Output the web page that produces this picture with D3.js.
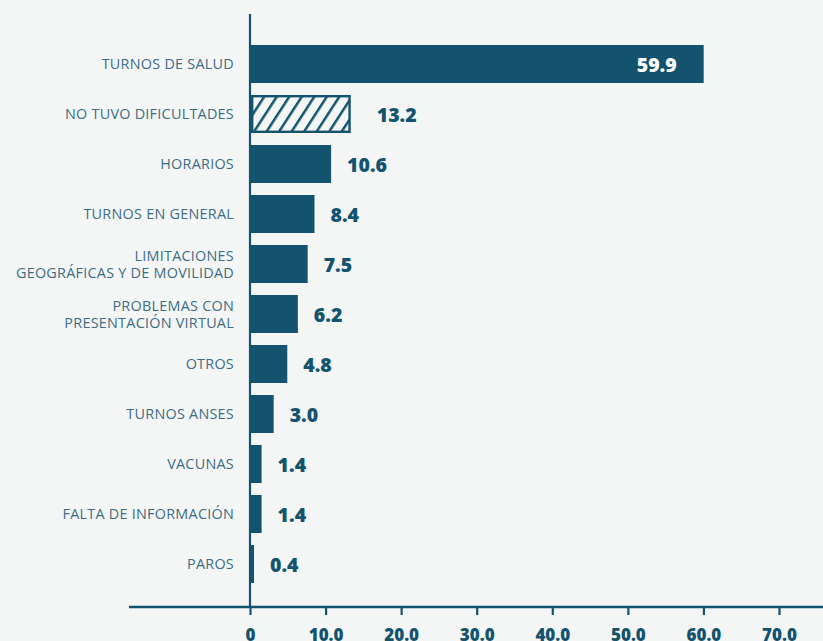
<!DOCTYPE html>
<html>
<head>
<meta charset="utf-8">
<script src="https://cdn.jsdelivr.net/npm/d3@7"></script>
<style>
  html, body { margin: 0; padding: 0; background: #f4f6f6; }
  svg { display: block; }
  .cat { font-family: "Open Sans", sans-serif; font-size: 14.4px; fill: #3d6c83; letter-spacing: 0.25px; }
  .val { font-family: "Open Sans", sans-serif; font-weight: 800; font-size: 19.5px; fill: #13536d; }
  .tick-label { font-family: "Open Sans", sans-serif; font-weight: 800; font-size: 17px; fill: #13536d; }
</style>
</head>
<body>
<svg id="chart" width="823" height="641"></svg>
<script>
// Categories (top to bottom) and their percentages
const categories = [
  ["TURNOS DE SALUD"],
  ["NO TUVO DIFICULTADES"],
  ["HORARIOS"],
  ["TURNOS EN GENERAL"],
  ["LIMITACIONES", "GEOGRÁFICAS Y DE MOVILIDAD"],
  ["PROBLEMAS CON", "PRESENTACIÓN VIRTUAL"],
  ["OTROS"],
  ["TURNOS ANSES"],
  ["VACUNAS"],
  ["FALTA DE INFORMACIÓN"],
  ["PAROS"]
];
const values = [59.9, 13.2, 10.6, 8.4, 7.5, 6.2, 4.8, 3.0, 1.4, 1.4, 0.4];
const hatched = [false, true, false, false, false, false, false, false, false, false, false];
const tickValues = [0, 10, 20, 30, 40, 50, 60, 70];

const color = "#13536d";
const svg = d3.select("#chart");

const x = d3.scaleLinear().domain([0, 70]).range([250, 779]);
const y = d3.scaleBand()
  .domain(d3.range(values.length))
  .range([45, 583])
  .paddingInner(0.24)
  .paddingOuter(0);

// Diagonal hatch for the "no difficulties" bar
const defs = svg.append("defs");
const pat = defs.append("pattern")
  .attr("id", "hatch")
  .attr("patternUnits", "userSpaceOnUse")
  .attr("width", 10.5)
  .attr("height", 10.5)
  .attr("patternTransform", "rotate(33)");
pat.append("rect").attr("width", 10.5).attr("height", 10.5).attr("fill", "#f4f6f6");
pat.append("line")
  .attr("x1", 0).attr("y1", 0).attr("x2", 0).attr("y2", 10.5)
  .attr("stroke", color).attr("stroke-width", 5);

// Bars
const rows = svg.append("g").selectAll("g.row")
  .data(values.map((v, i) => ({ v, i, label: categories[i], hatch: hatched[i] })))
  .join("g").attr("class", "row");

rows.append("rect")
  .attr("x", d => x(0) + (d.hatch ? 2.2 : 1))
  .attr("y", d => y(d.i) + (d.hatch ? 1.2 : 0))
  .attr("width", d => x(d.v) - x(0) - (d.hatch ? 2.4 : 0))
  .attr("height", d => y.bandwidth() - (d.hatch ? 2.4 : 0))
  .attr("fill", d => d.hatch ? "url(#hatch)" : color)
  .attr("stroke", d => d.hatch ? color : "none")
  .attr("stroke-width", 2.4);

// Category labels, right-aligned against the axis; one text per line
const lineGap = 17;
rows.each(function (d) {
  const g = d3.select(this);
  const n = d.label.length;
  const cy = y(d.i) + y.bandwidth() / 2;
  d.label.forEach((line, k) => {
    g.append("text")
      .attr("class", "cat")
      .attr("text-anchor", "end")
      .attr("x", 234)
      .attr("y", cy + (k - (n - 1) / 2) * lineGap + 5)
      .text(line);
  });
});

// Value labels: inside the long bar, to the right for the others
rows.append("text")
  .attr("class", "val")
  .attr("x", d => d.v > 30 ? x(d.v) - 26 : x(d.v) + (d.hatch ? 27 : 17))
  .attr("y", d => y(d.i) + y.bandwidth() / 2 + 7.5)
  .attr("text-anchor", d => d.v > 30 ? "end" : "start")
  .style("fill", d => d.v > 30 ? "#ffffff" : null)
  .text(d => d.v.toFixed(1));

// Vertical axis line
svg.append("line")
  .attr("x1", 250).attr("x2", 250)
  .attr("y1", 14).attr("y2", 607)
  .attr("stroke", color).attr("stroke-width", 2.2);

// Horizontal axis with ticks
const xAxis = d3.axisBottom(x)
  .tickValues(tickValues)
  .tickSize(8)
  .tickFormat(d => d === 0 ? "0" : d3.format(".1f")(d));
const gx = svg.append("g").attr("transform", "translate(0,607)").call(xAxis);
gx.select(".domain").remove();
gx.selectAll(".tick line").attr("stroke", color).attr("stroke-width", 2.2);
gx.selectAll(".tick text")
  .attr("class", "tick-label")
  .attr("y", 22)
  .attr("dy", "0.71em")
  .attr("fill", null);
gx.insert("line", ":first-child")
  .attr("x1", 129).attr("x2", 823)
  .attr("y1", 0).attr("y2", 0)
  .attr("stroke", color).attr("stroke-width", 2.5);
</script>
</body>
</html>
